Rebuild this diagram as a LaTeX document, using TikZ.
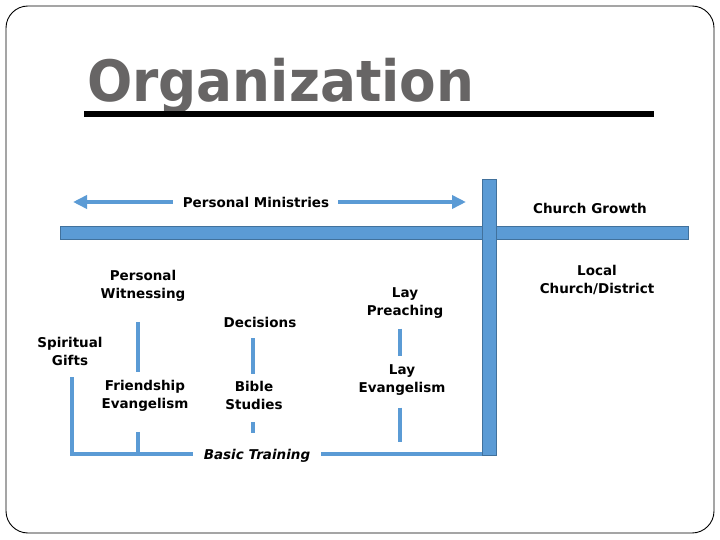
\documentclass[tikz,border=0pt]{standalone}
\usepackage{fontspec}
\usetikzlibrary{arrows.meta,positioning,calc}
\newfontfamily\vfont{DejaVu Sans}
\definecolor{barblue}{HTML}{5B9BD5}
\definecolor{baredge}{HTML}{41719C}
\definecolor{titlegray}{HTML}{676565}

\begin{document}
\begin{tikzpicture}[x=1pt,y=-1pt,>=Stealth,
  lbl/.style={font=\vfont\bfseries\fontsize{13.5}{18}\selectfont,align=center,inner sep=0pt},
  link/.style={barblue,line width=3.5pt},
  arr/.style={barblue,line width=4pt,-{Triangle[length=14pt,width=13pt]}},
  bar/.style={fill=barblue,draw=baredge,line width=0.8pt,inner sep=0pt}]
  \useasboundingbox (0,0) rectangle (720,540);
  \draw[line width=0.9pt,rounded corners=22pt] (6,6) rectangle (714,533);
  % title
  \node[anchor=base west,inner sep=0pt,text=titlegray,font=\vfont\bfseries\fontsize{57}{60}\selectfont] (title) at (87,102) {\scalebox{0.935}[1]{Organization}};
  \fill (84,111) rectangle (654,117);
  % bars
  \node[bar,minimum width=628pt,minimum height=13pt,anchor=west] (hbar) at (60,232.5) {};
  \node[bar,minimum width=14pt,minimum height=276pt] (vbar) at (489,317) {};
  % labels
  \node[lbl] (pm) at (256,202) {Personal Ministries};
  \coordinate (pmL) at (73,202); \coordinate (pmR) at (466,202);
  \draw[arr] ([xshift=-10pt]pm.west) -- (pmL);
  \draw[arr] ([xshift=9pt]pm.east) -- (pmR);
  \node[lbl] (cg) at (590,208) {Church Growth};
  \node[lbl] (lcd) at (597,280) {Local\\Church/District};
  \node[lbl] (wit) at (143,286) {Personal\\Witnessing};
  \node[lbl] (sg) at (70,351) {Spiritual\\Gifts};
  \node[lbl] (fe) at (145,396) {Friendship\\Evangelism};
  \node[lbl] (dec) at (260,322) {Decisions};
  \node[lbl] (bs) at (254,395) {Bible\\Studies};
  \node[lbl] (lp) at (405,303) {Lay\\Preaching};
  \node[lbl] (le) at (402,380) {Lay\\Evangelism};
  \node[lbl,font=\vfont\bfseries\itshape\fontsize{13.5}{18}\selectfont] (bt) at (257,456) {Basic Training};
  % connectors
  \coordinate (corner) at (72,454);
  \draw[link,shorten <=20pt,shorten >=8pt] (wit.south -| 138,0) -- (fe.north -| 138,0);
  \draw[link,shorten <=12pt] (sg.south -| corner) -- (corner) -- ([xshift=-11pt]bt.west |- corner);
  \draw[link] ([xshift=11pt]bt.east |- corner) -- (vbar.west |- corner);
  \draw[link,shorten <=20pt] (fe.south -| 138,0) -- (corner -| 138,0);
  \draw[link,shorten <=11pt,shorten >=7pt] (dec.south -| 253,0) -- (bs.north -| 253,0);
  \draw[link,shorten <=13pt,shorten >=16pt] (bs.south -| 253,0) -- (bt.north -| 253,0);
  \draw[link,shorten <=10pt,shorten >=8pt] (lp.south -| 400,0) -- (le.north -| 400,0);
  \draw[link,shorten <=12pt,shorten >=12pt] (le.south -| 400,0) -- (corner -| 400,0);
\end{tikzpicture}
\end{document}
